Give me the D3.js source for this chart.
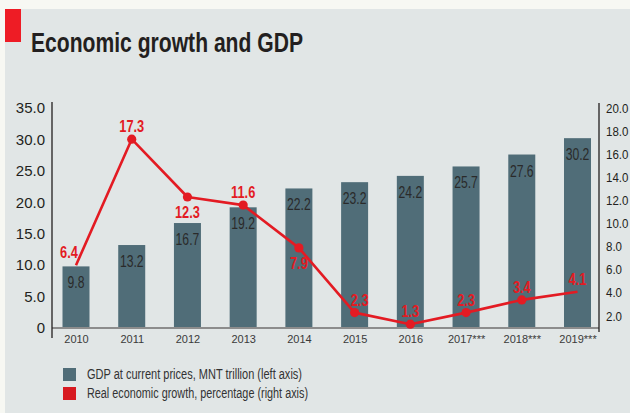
<!DOCTYPE html>
<html>
<head>
<meta charset="utf-8">
<script src="https://cdn.jsdelivr.net/npm/d3@7"></script>
<style>
  html, body { margin: 0; padding: 0; background: #f7f8f3; }
  svg { display: block; }
  text { font-family: "Liberation Sans", Arial, sans-serif; }
</style>
</head>
<body>
<svg id="chart" width="630" height="413"></svg>
<script>
// Years on the category axis
const years = ["2010", "2011", "2012", "2013", "2014", "2015", "2016", "2017***", "2018***", "2019***"];
// GDP at current prices, MNT trillion (left axis)
const gdp = [9.8, 13.2, 16.7, 19.2, 22.2, 23.2, 24.2, 25.7, 27.6, 30.2];
// Real economic growth, percentage (right axis)
const growth = [6.4, 17.3, 12.3, 11.6, 7.9, 2.3, 1.3, 2.3, 3.4, 4.1];
// Where each growth label sits relative to its point
const growthLabelSide = ["aboveLeft", "above", "below", "above", "below", "aboveRight", "above", "above", "above", "above"];
// Whether a point gets a round marker
const growthMarker = [false, true, true, true, true, true, true, true, true, false];
// Axis tick values
const leftTicks = [0, 5, 10, 15, 20, 25, 30, 35];
const rightTicks = [2, 4, 6, 8, 10, 12, 14, 16, 18, 20];
// Legend entries
const legendLabels = ["GDP at current prices, MNT trillion (left axis)", "Real economic growth, percentage (right axis)"];

const BAR = "#506d78", RED = "#e31b23", INK = "#231f20";

const svg = d3.select("#chart");

// squeeze a text selection horizontally to a fraction of its natural width
function condense(sel, k) {
  sel.each(function () {
    const w = this.getComputedTextLength();
    d3.select(this).attr("textLength", w * k).attr("lengthAdjust", "spacingAndGlyphs");
  });
}

// label offsets for each placement keyword
const sideOffset = {
  above: [0, -7],
  below: [0, 21],
  aboveLeft: [-7, -7],
  aboveRight: [5, -7]
};

// panel background
svg.append("rect").attr("x", 5).attr("y", 9).attr("width", 625).attr("height", 404).attr("fill", "#e1e6e6");
// title block
svg.append("rect").attr("x", 5).attr("y", 9).attr("width", 16).attr("height", 33).attr("fill", "#ee1c25");
svg.append("text").attr("x", 31).attr("y", 52)
  .attr("font-size", 27).attr("font-weight", 700).attr("fill", INK)
  .attr("textLength", 272).attr("lengthAdjust", "spacingAndGlyphs")
  .text("Economic growth and GDP");

const x = d3.scalePoint().domain(years).range([76, 577.5]);
const yL = d3.scaleLinear().domain([0, 35]).range([328, 108]);
const yR = d3.scaleLinear().domain([0, 20]).range([339.2, 108]);
const barW = 27;

// bars
svg.append("g").selectAll("rect").data(gdp).join("rect")
  .attr("x", (d, i) => x(years[i]) - barW / 2)
  .attr("y", d => yL(d))
  .attr("width", barW)
  .attr("height", d => yL(0) - yL(d))
  .attr("fill", BAR);

// bar values
svg.append("g").selectAll("text").data(gdp).join("text")
  .attr("x", (d, i) => x(years[i]))
  .attr("y", d => yL(d) + 22)
  .attr("text-anchor", "middle")
  .attr("font-size", 16).attr("fill", "#2a2a2a")
  .text(d => d.toFixed(1))
  .call(condense, 0.76);

// baseline
svg.append("line").attr("x1", 52).attr("x2", 599).attr("y1", yL(0)).attr("y2", yL(0))
  .attr("stroke", "#8c8c8c").attr("stroke-width", 2);

// left axis
const leftAxis = svg.append("g").attr("transform", "translate(52,0)")
  .call(d3.axisLeft(yL).tickValues(leftTicks).tickSize(0).tickPadding(7)
    .tickFormat(d => d === 0 ? "0" : d3.format(".1f")(d)));
leftAxis.select(".domain").remove();
leftAxis.selectAll("text").attr("font-size", 15).attr("fill", INK);
svg.append("line").attr("x1", 52).attr("x2", 52).attr("y1", 102).attr("y2", 338)
  .attr("stroke", INK).attr("stroke-width", 1.3);

// right axis
const rightAxis = svg.append("g").attr("transform", "translate(599,0)")
  .call(d3.axisRight(yR).tickValues(rightTicks).tickSize(0).tickPadding(7)
    .tickFormat(d3.format(".1f")));
rightAxis.select(".domain").remove();
rightAxis.selectAll("text").attr("font-size", 12.5).attr("fill", INK)
  .call(condense, 0.92);
svg.append("line").attr("x1", 599).attr("x2", 599).attr("y1", 103).attr("y2", 332)
  .attr("stroke", INK).attr("stroke-width", 1.3);

// category labels
const xAxis = svg.append("g").attr("transform", `translate(0,${yL(0) + 5})`)
  .call(d3.axisBottom(x).tickSize(0).tickPadding(0));
xAxis.select(".domain").remove();
xAxis.selectAll("text").attr("font-size", 11).attr("fill", "#3a3a3a").attr("dy", "0.9em");

// growth line
const line = d3.line().x((d, i) => x(years[i])).y(d => yR(d));
svg.append("path").datum(growth).attr("d", line)
  .attr("fill", "none").attr("stroke", RED).attr("stroke-width", 2.6).attr("stroke-linejoin", "round");
svg.append("g").selectAll("circle").data(growth.map((d, i) => ({ d, i })).filter(p => growthMarker[p.i])).join("circle")
  .attr("cx", p => x(years[p.i])).attr("cy", p => yR(p.d)).attr("r", 4.6).attr("fill", RED);

// growth values
svg.append("g").selectAll("text").data(growth).join("text")
  .attr("x", (d, i) => x(years[i]) + sideOffset[growthLabelSide[i]][0])
  .attr("y", (d, i) => yR(d) + sideOffset[growthLabelSide[i]][1])
  .attr("text-anchor", "middle")
  .attr("font-size", 16).attr("font-weight", 700).attr("fill", RED)
  .text(d => d.toFixed(1))
  .call(condense, 0.8);

// legend
const legendColors = [BAR, "#d71920"];
const lg = svg.append("g");
legendLabels.forEach((t, i) => {
  lg.append("rect").attr("x", 63).attr("y", 368 + i * 19).attr("width", 13).attr("height", 13).attr("fill", legendColors[i]);
  lg.append("text").attr("x", 87).attr("y", 379 + i * 19).attr("font-size", 14).attr("fill", "#333")
    .attr("textLength", i === 0 ? 215 : 221).attr("lengthAdjust", "spacingAndGlyphs").text(t);
});
</script>
</body>
</html>
